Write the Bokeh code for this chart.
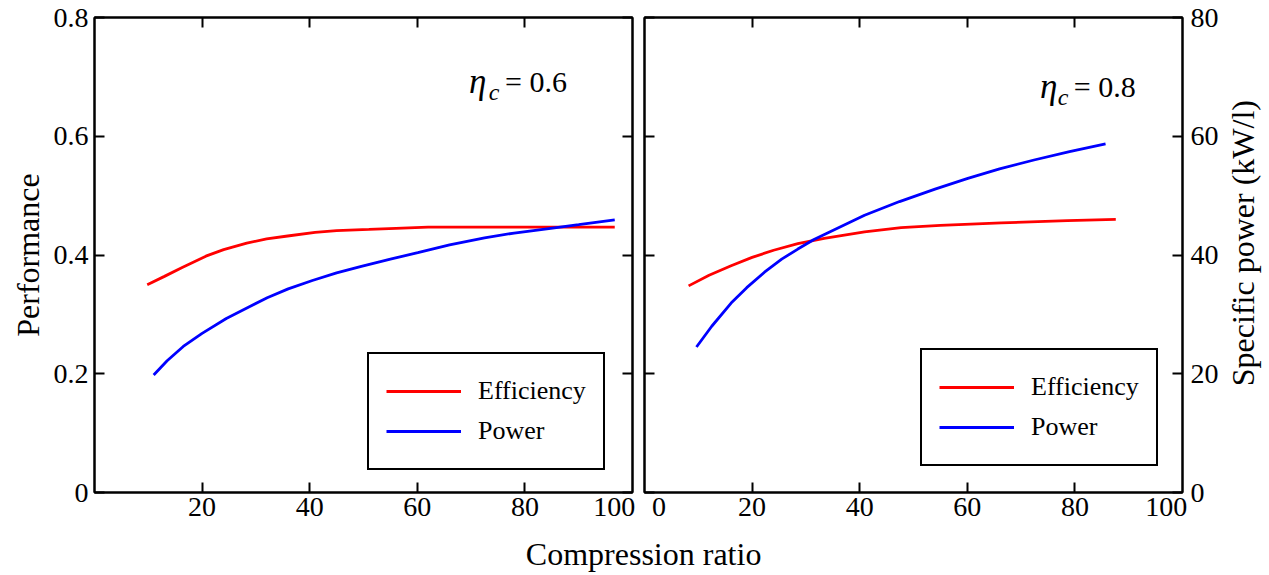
import math
from bokeh.plotting import figure
from bokeh.models import (Range1d, LinearAxis, FixedTicker, Legend, LegendItem, Label,
                          NumeralTickFormatter)
from bokeh.layouts import column, row
from bokeh.embed import file_html
from bokeh.resources import INLINE

# ---------------- data ----------------
x_tick_marks = [20, 40, 60, 80]
left_x_labels = {20: "20", 40: "40", 60: "60", 80: "80", 96.6: "100"}
right_x_labels = {2.7: "0", 20: "20", 40: "40", 60: "60", 80: "80", 97: "100"}
perf_ticks = [0, 0.2, 0.4, 0.6, 0.8]
power_ticks = [0, 20, 40, 60, 80]

# left panel: eta_c = 0.6 (both series on the Performance scale)
left_eff_x = [9.8, 13, 16.3, 20.7, 24, 28.3, 32, 35.9, 41, 45, 51, 56, 62, 70, 80, 90, 96.7]
left_eff_y = [0.350, 0.364, 0.379, 0.398, 0.409, 0.420, 0.427, 0.432, 0.438, 0.441,
              0.443, 0.445, 0.447, 0.447, 0.447, 0.447, 0.447]
left_pow_x = [11.0, 13.5, 16.5, 20, 24.5, 28.6, 32.1, 36, 40.5, 45, 49.6, 55, 60.1,
              66, 72.5, 78, 84.8, 90, 96.7]
left_pow_y = [0.198, 0.222, 0.246, 0.268, 0.293, 0.312, 0.328, 0.343, 0.357, 0.370,
              0.381, 0.393, 0.404, 0.417, 0.429, 0.437, 0.445, 0.451, 0.459]

# right panel: eta_c = 0.8 (efficiency on left scale, power in kW/l on right scale)
right_eff_x = [8.2, 12, 16.1, 20, 24, 28.5, 33.4, 40.9, 47.7, 55, 66.3, 78.6, 87.6]
right_eff_y = [0.348, 0.366, 0.382, 0.396, 0.408, 0.419, 0.428, 0.439, 0.446, 0.450,
               0.454, 0.458, 0.460]
right_pow_x = [9.66, 12.5, 16.1, 19, 22.3, 25.5, 28.5, 31.5, 34.7, 40.9, 47.4, 54,
               60.1, 66, 72.4, 79, 85.7]
right_pow_y = [24.5, 28.0, 31.9, 34.5, 37.1, 39.3, 41.0, 42.6, 44.0, 46.7, 49.0, 51.1,
               52.9, 54.5, 56.0, 57.4, 58.7]

FONT = "Liberation Serif, Times New Roman, serif"
TICK_FS = "28px"
AXLAB_FS = "32px"
LW = 2.8


def style_axis(ax):
    ax.axis_line_color = "black"
    ax.axis_line_width = 2
    ax.major_tick_in = 10
    ax.major_tick_out = 0
    ax.major_tick_line_width = 2
    ax.major_tick_line_color = "black"
    ax.minor_tick_in = 0
    ax.minor_tick_out = 0
    ax.major_label_text_font = FONT
    ax.major_label_text_font_size = TICK_FS
    ax.major_label_text_color = "black"
    ax.axis_label_text_font = FONT
    ax.axis_label_text_font_style = "normal"
    ax.axis_label_text_font_size = AXLAB_FS
    ax.axis_label_text_color = "black"


def blank_labels(ax, ticks):
    ax.major_label_overrides = {t: "" for t in ticks}
    ax.major_label_standoff = 0


def label_axis_x(ax, labels):
    # label positions as major ticks (no mark), tick marks as minor ticks
    ax.ticker = FixedTicker(ticks=list(labels.keys()), minor_ticks=x_tick_marks)
    ax.major_label_overrides = labels
    ax.major_tick_in = 0
    ax.minor_tick_in = 10
    ax.minor_tick_out = 0
    ax.minor_tick_line_width = 2
    ax.minor_tick_line_color = "black"
    ax.major_label_standoff = 5


def make_fig(width, min_left, min_right):
    p = figure(width=width, height=532, toolbar_location=None, output_backend="svg",
               x_range=Range1d(0, 100), y_range=Range1d(0, 0.8),
               min_border_left=min_left, min_border_right=min_right,
               min_border_top=17, min_border_bottom=40)
    p.xgrid.visible = False
    p.ygrid.visible = False
    p.outline_line_color = "black"
    p.outline_line_width = 2
    p.background_fill_color = "white"
    p.border_fill_color = "white"
    return p


def add_legend(p, r_eff, r_pow, loc):
    leg = Legend(items=[LegendItem(label="Efficiency", renderers=[r_eff]),
                        LegendItem(label="Power", renderers=[r_pow])],
                 location=loc)
    leg.border_line_color = "black"
    leg.border_line_alpha = 1
    leg.border_line_width = 2
    leg.background_fill_color = "white"
    leg.background_fill_alpha = 1
    leg.label_text_font = FONT
    leg.label_text_font_size = "26px"
    leg.label_text_color = "black"
    leg.glyph_width = 75
    leg.glyph_height = 40
    leg.label_height = 40
    leg.spacing = 0
    leg.padding = 17
    leg.label_standoff = 17
    leg.margin = 0
    p.add_layout(leg)


def add_eta(p, x_eta, x_c, x_eq, y_base, y_sub, txt):
    p.add_layout(Label(x=x_eta, y=y_base, text="η", text_font=FONT, text_font_size="35px",
                       text_font_style="italic", text_baseline="alphabetic", text_color="black"))
    p.add_layout(Label(x=x_c, y=y_sub, text="c", text_font=FONT, text_font_size="24px",
                       text_font_style="italic", text_baseline="alphabetic", text_color="black"))
    p.add_layout(Label(x=x_eq, y=y_base, text=txt, text_font=FONT, text_font_size="30px",
                       text_baseline="alphabetic", text_color="black"))


def label_fig(width, height, text, angle, x, y):
    f = figure(width=width, height=height, toolbar_location=None, output_backend="svg",
               x_range=Range1d(0, 1), y_range=Range1d(0, 1),
               min_border_left=0, min_border_right=0,
               min_border_top=0, min_border_bottom=0)
    f.axis.visible = False
    f.xgrid.visible = False
    f.ygrid.visible = False
    f.outline_line_color = None
    f.background_fill_color = "white"
    f.border_fill_color = "white"
    f.add_layout(Label(x=x, y=y, text=text, text_font=FONT, text_font_size=AXLAB_FS,
                       angle=angle, text_align="center", text_baseline="middle",
                       text_color="black"))
    return f


# ---------------- left panel ----------------
p1 = make_fig(638, 94, 6)
style_axis(p1.xaxis[0])
label_axis_x(p1.xaxis[0], left_x_labels)
style_axis(p1.yaxis[0])
p1.yaxis[0].ticker = FixedTicker(ticks=perf_ticks)
p1.yaxis[0].formatter = NumeralTickFormatter(format="0.[0]")
p1.yaxis[0].major_label_standoff = 6
p1.yaxis[0].axis_label = "Performance"
p1.yaxis[0].axis_label_standoff = 5

ax_r1 = LinearAxis(ticker=FixedTicker(ticks=perf_ticks))
style_axis(ax_r1)
blank_labels(ax_r1, perf_ticks)
p1.add_layout(ax_r1, "right")
ax_t1 = LinearAxis(ticker=FixedTicker(ticks=x_tick_marks))
style_axis(ax_t1)
blank_labels(ax_t1, x_tick_marks)
p1.add_layout(ax_t1, "above")

r1e = p1.line(left_eff_x, left_eff_y, line_color="#ff0000", line_width=LW)
r1p = p1.line(left_pow_x, left_pow_y, line_color="#0000ff", line_width=LW)
add_legend(p1, r1e, r1p, (273, 22))
add_eta(p1, 69.6, 73.3, 76.3, 0.692, 0.674, "= 0.6")

# ---------------- right panel ----------------
p2 = make_fig(586, 6, 42)
p2.extra_y_ranges = {"power": Range1d(0, 80)}
style_axis(p2.xaxis[0])
label_axis_x(p2.xaxis[0], right_x_labels)
style_axis(p2.yaxis[0])
p2.yaxis[0].ticker = FixedTicker(ticks=perf_ticks)
blank_labels(p2.yaxis[0], perf_ticks)

ax_r2 = LinearAxis(y_range_name="power", ticker=FixedTicker(ticks=power_ticks))
style_axis(ax_r2)
ax_r2.major_label_standoff = 8
p2.add_layout(ax_r2, "right")
ax_t2 = LinearAxis(ticker=FixedTicker(ticks=x_tick_marks))
style_axis(ax_t2)
blank_labels(ax_t2, x_tick_marks)
p2.add_layout(ax_t2, "above")

r2e = p2.line(right_eff_x, right_eff_y, line_color="#ff0000", line_width=LW)
r2p = p2.line(right_pow_x, right_pow_y, line_color="#0000ff", line_width=LW,
              y_range_name="power")
add_legend(p2, r2e, r2p, (276, 26))
add_eta(p2, 73.5, 76.8, 79.8, 0.684, 0.666, "= 0.8")

# right-hand axis title (reads bottom to top)
p4 = label_fig(42, 532, "Specific power (kW/l)", math.pi / 2, 0.45, 0.525)

# ---------------- shared x label ----------------
p3 = label_fig(1266, 42, "Compression ratio", 0, 0.508, 0.5)

layout = column(row(p1, p2, p4), p3)
open("out.html", "w").write(file_html(layout, INLINE))
